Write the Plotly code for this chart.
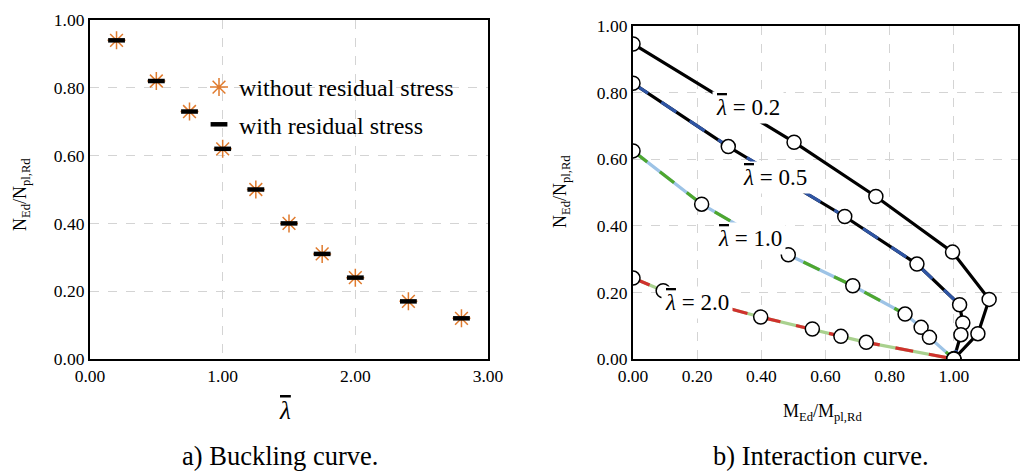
import plotly.graph_objects as go

# ---------------- data ----------------
# a) Buckling curve
lam = [0.2, 0.5, 0.75, 1.0, 1.25, 1.5, 1.75, 2.0, 2.4, 2.8]
n_without = [0.94, 0.82, 0.73, 0.62, 0.50, 0.40, 0.31, 0.24, 0.17, 0.12]
n_with = [0.94, 0.82, 0.73, 0.62, 0.50, 0.40, 0.31, 0.24, 0.17, 0.12]

# b) Interaction curves (M/Mpl, N/Npl)
m_02 = [0.0, 0.502, 0.757, 0.996, 1.110, 1.075, 1.0]
n_02 = [0.946, 0.651, 0.488, 0.321, 0.179, 0.076, 0.0]
m_05 = [0.0, 0.297, 0.660, 0.885, 1.018, 1.028, 1.022, 1.0]
n_05 = [0.828, 0.638, 0.428, 0.285, 0.163, 0.108, 0.073, 0.0]
m_10 = [0.0, 0.214, 0.484, 0.685, 0.848, 0.898, 0.924, 1.0]
n_10 = [0.625, 0.465, 0.313, 0.220, 0.135, 0.095, 0.065, 0.0]
m_20 = [0.0, 0.094, 0.398, 0.559, 0.648, 0.727, 1.0]
n_20 = [0.243, 0.205, 0.126, 0.090, 0.068, 0.050, 0.0]

LBAR = '<span style="text-decoration:overline"><i>λ</i></span>'
labels = [LBAR + " = 0.2", LBAR + " = 0.5", LBAR + " = 1.0", LBAR + " = 2.0"]

FONT = "Liberation Serif, Times New Roman, DejaVu Serif, serif"
# page body has an 8px margin: figure occupies page pixels [8, 1033] x [8, 473]
OFF = 8
W, H = 1025, 465


def px(x):
    return (x - OFF) / W


def py(y):
    return 1 - (y - OFF) / H


fig = go.Figure()

# ---- left panel ----
fig.add_trace(go.Scatter(
    x=lam, y=n_without, mode="markers", name="without residual stress",
    legendgroup="a",
    marker=dict(symbol="asterisk-open", size=15, color="#E07B2E",
                line=dict(color="#E07B2E", width=1.5)),
    xaxis="x", yaxis="y"))
fig.add_trace(go.Scatter(
    x=lam, y=n_with, mode="markers", name="with residual stress",
    legendgroup="b",
    marker=dict(symbol="line-ew-open", size=12, color="black",
                line=dict(color="black", width=4.5)),
    xaxis="x", yaxis="y"))

# ---- right panel ----
curves = [
    (m_02, n_02, "black", None),
    (m_05, n_05, "black", "#2F55A4"),
    (m_10, n_10, "#9DC3E6", "#4EA72E"),
    (m_20, n_20, "#A9D18E", "#D0312D"),
]
for mx, ny, base, dashc in curves:
    fig.add_trace(go.Scatter(x=mx, y=ny, mode="lines", showlegend=False,
                             line=dict(color=base, width=3.2),
                             xaxis="x2", yaxis="y2", hoverinfo="skip"))
    if dashc:
        fig.add_trace(go.Scatter(x=mx, y=ny, mode="lines", showlegend=False,
                                 line=dict(color=dashc, width=3.2, dash="18px,16px"),
                                 xaxis="x2", yaxis="y2", hoverinfo="skip"))
for mx, ny, base, dashc in curves:
    fig.add_trace(go.Scatter(x=mx, y=ny, mode="markers", showlegend=False,
                             marker=dict(symbol="circle", size=14, color="white",
                                         line=dict(color="black", width=1.5)),
                             xaxis="x2", yaxis="y2"))

label_pos = [(0.358, 0.754), (0.442, 0.544), (0.364, 0.361), (0.199, 0.169)]
for txt, (ax_, ay_) in zip(labels, label_pos):
    fig.add_annotation(x=ax_, y=ay_, xref="x2", yref="y2", text=txt,
                       xanchor="center", yanchor="middle",
                       showarrow=False, bgcolor="white", borderpad=3,
                       font=dict(family=FONT, size=23, color="black"))

axis_common = dict(showline=True, linecolor="black", linewidth=2.2, mirror=True,
                   ticks="", showgrid=True, gridcolor="#D4D4D4", griddash="dash",
                   gridwidth=1, zeroline=False, tickformat=".2f", automargin=False,
                   tickfont=dict(family=FONT, size=17.5, color="black"))

fig.update_layout(
    width=W, height=H,
    margin=dict(l=0, r=0, t=0, b=0, pad=0, autoexpand=False),
    paper_bgcolor="white", plot_bgcolor="white",
    font=dict(family=FONT, color="black"),
    xaxis=dict(domain=[px(90), px(488)], range=[0, 3], dtick=1.0, anchor="y", **axis_common),
    yaxis=dict(domain=[py(359), py(20)], range=[0, 1], dtick=0.2, anchor="x", **axis_common),
    xaxis2=dict(domain=[px(633), px(1018)], range=[0, 1.2], dtick=0.2, anchor="y2", **axis_common),
    yaxis2=dict(domain=[py(359), py(26)], range=[0, 1], dtick=0.2, anchor="x2", **axis_common),
    legend=dict(x=px(199), y=py(65), xanchor="left", yanchor="top",
                bgcolor="rgba(0,0,0,0)", font=dict(family=FONT, size=24, color="black"),
                tracegroupgap=3, itemsizing="trace"),
    showlegend=True,
)


def note(x, y, text, size, angle=0):
    fig.add_annotation(x=px(x), y=py(y), xref="paper", yref="paper", showarrow=False,
                       xanchor="center", yanchor="middle", text=text, textangle=angle,
                       font=dict(family=FONT, size=size, color="black"))


# axis titles and captions
note(22, 195, "N<sub>Ed</sub>/N<sub>pl,Rd</sub>", 18, -90)
note(561, 192, "N<sub>Ed</sub>/N<sub>pl,Rd</sub>", 18, -90)
note(285, 410, LBAR, 25)
note(822, 412, "M<sub>Ed</sub>/M<sub>pl,Rd</sub>", 18)
note(280, 456, "a) Buckling curve.", 26.5)
note(821, 456, "b) Interaction curve.", 26.5)

fig.write_html("out.html")
